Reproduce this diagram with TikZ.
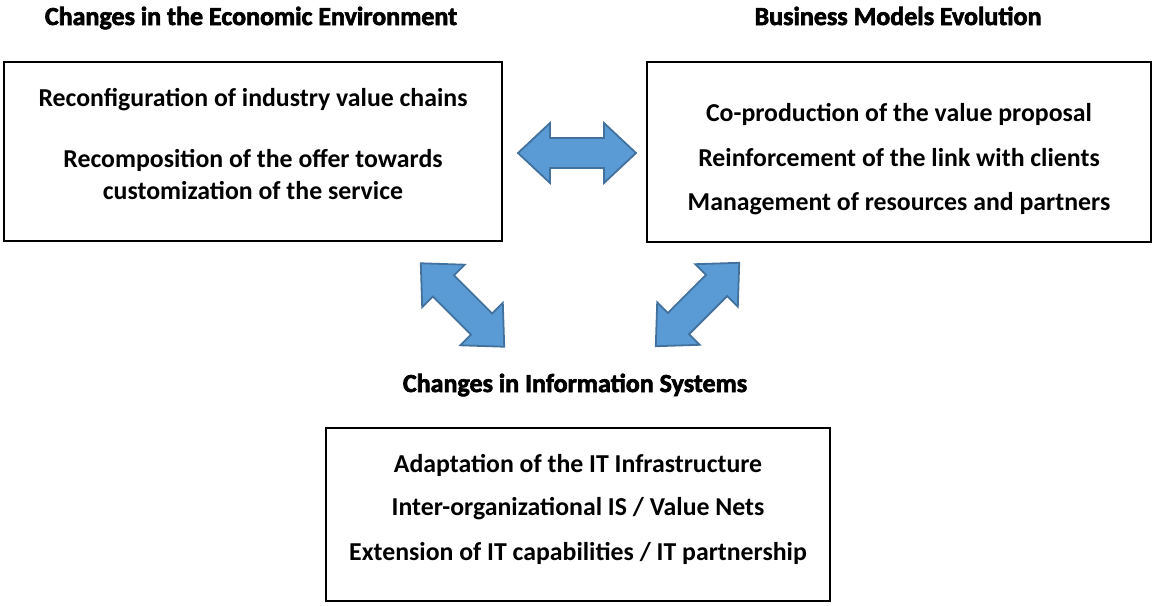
\documentclass[tikz,border=0pt]{standalone}
\usepackage{fontspec}
\setmainfont{Carlito}
\newfontfamily\titlefont{Carlito Bold}[FakeBold=2.5]
\newfontfamily\itemfont{Carlito Bold}
\definecolor{arrowfill}{RGB}{91,155,213}
\definecolor{arrowdraw}{RGB}{65,113,156}
\begin{document}
\begin{tikzpicture}[x=1pt,y=-1pt,
  panel/.style={draw=black,line width=1.8pt},
  title/.style={anchor=base,inner sep=0pt,font=\titlefont\fontsize{26}{30}\selectfont},
  item/.style={anchor=base,inner sep=0pt,font=\itemfont\fontsize{25.8}{30}\selectfont},
  blockarrow/.style={fill=arrowfill,draw=arrowdraw,line width=1.8pt,line join=miter}]
\useasboundingbox (0,0) rectangle (1153,605);
% panels
\draw[panel] (4,62) rectangle (502,241);
\draw[panel] (647,62) rectangle (1151,242);
\draw[panel] (326,428) rectangle (830,601);
% titles
\node[title] (t1) at (251,25) {Changes in the Economic Environment};
\node[title] (t2) at (898,25) {Business Models Evolution};
\node[title] (t3) at (575,392) {Changes in Information Systems};
% left items
\node[item] (l1) at (253,106) {Reconfiguration of industry value chains};
\node[item] (l2) at (253,167) {Recomposition of the offer towards};
\node[item] (l3) at (253,199) {customization of the service};
% right items
\node[item] (r1) at (899,121) {Co-production of the value proposal};
\node[item] (r2) at (899,166) {Reinforcement of the link with clients};
\node[item] (r3) at (899,210) {Management of resources and partners};
% bottom items
\node[item] (b1) at (578,472) {Adaptation of the IT Infrastructure};
\node[item] (b2) at (578,515) {Inter-organizational IS / Value Nets};
\node[item] (b3) at (578,560) {Extension of IT capabilities / IT partnership};
% block arrows
\def\dblarrow{(-59,0) -- (-27,-30) -- (-27,-15) -- (27,-15) -- (27,-30) -- (59,0) -- (27,30) -- (27,15) -- (-27,15) -- (-27,30) -- cycle}
\begin{scope}[shift={(577,153)}]
  \draw[blockarrow] \dblarrow;
\end{scope}
\begin{scope}[shift={(462.5,305)},rotate=-45]
  \draw[blockarrow] \dblarrow;
\end{scope}
\begin{scope}[shift={(697.5,304.5)},rotate=45]
  \draw[blockarrow] \dblarrow;
\end{scope}
\end{tikzpicture}
\end{document}
